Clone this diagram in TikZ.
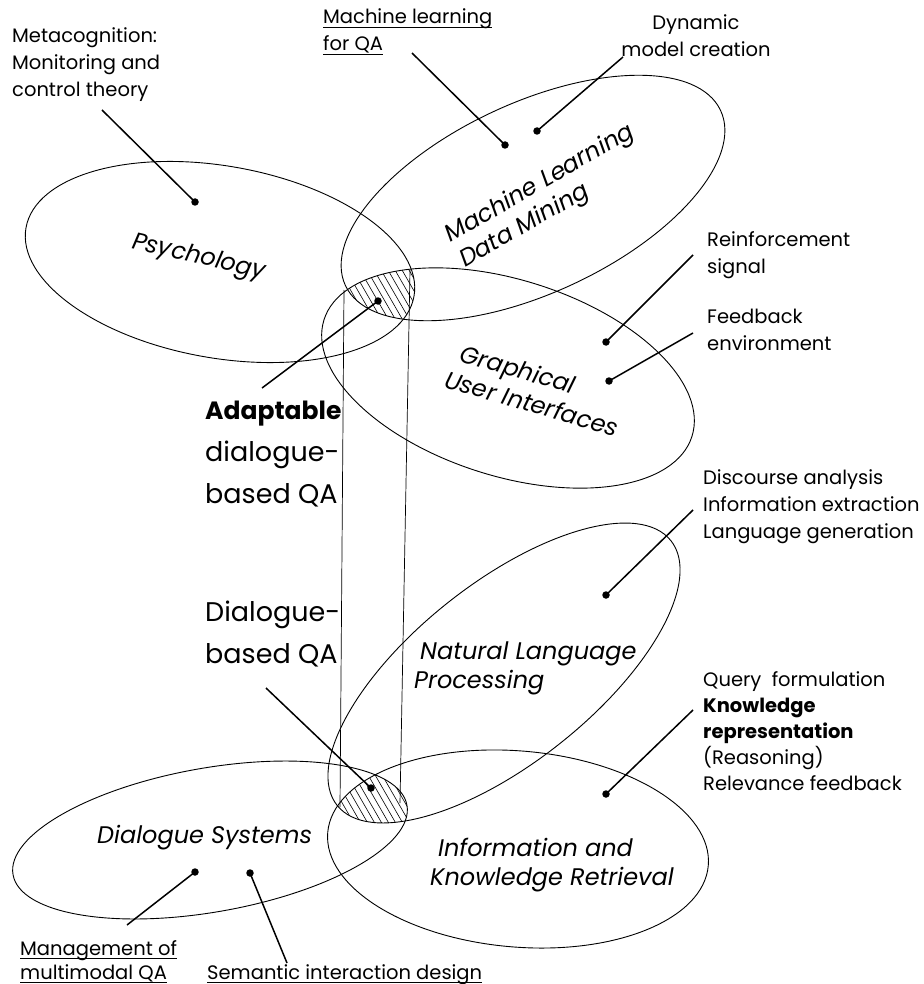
\documentclass[tikz,border=0pt]{standalone}
\usepackage{fontspec}
\setmainfont{Poppins}
\newcommand\fsS{\fontsize{19.5}{27}\selectfont}
\newcommand\fsQ{\fontsize{19.5}{26}\selectfont}
\newcommand\fsB{\fontsize{27}{42}\selectfont}
\newcommand\fsL{\fontsize{24}{29}\selectfont\itshape}
\newcommand\myul[1]{\setbox0\hbox{#1}\rlap{\rule[-3.6pt]{\wd0}{0.9pt}}\box0}
\begin{document}
\begin{tikzpicture}[x=1pt,y=-1pt,
  ell/.style={line width=0.9pt},
  cyl/.style={line width=0.7pt},
  ptr/.style={line width=1.5pt},
  dotn/.style={circle,fill,inner sep=0pt,minimum size=7.5pt},
  hatch/.style={line width=0.6pt},
  lbl/.style={inner sep=0pt,anchor=base west,align=left,font=\fsS},
  lblq/.style={inner sep=0pt,anchor=base west,align=left,font=\fsQ},
  big/.style={inner sep=0pt,anchor=base west,align=left,font=\fsB},
  elab/.style={inner sep=0pt,anchor=base west,align=left,font=\fsL}]
\useasboundingbox (0,0) rectangle (923,984);
% ---------- hatched intersections ----------
\begin{scope}
  \clip[shift={(220,262)},rotate=-10] (0,0) ellipse [x radius=197,y radius=96];
  \clip[shift={(533,198)},rotate=25] (0,0) ellipse [x radius=207,y radius=95];
  \clip[shift={(508,378)},rotate=-17.6] (0,0) ellipse [x radius=193,y radius=98];
  \foreach \k in {-12,...,30} \draw[hatch] (260+\k*7,230) -- ++(69,120);
\end{scope}
\begin{scope}
  \clip[shift={(210,840)},rotate=10] (0,0) ellipse [x radius=200,y radius=72];
  \clip[shift={(504,673)},rotate=38.4] (0,0) ellipse [x radius=213,y radius=90];
  \clip[shift={(518,849)},rotate=-5] (0,0) ellipse [x radius=191,y radius=98];
  \foreach \k in {-12,...,30} \draw[hatch] (250+\k*7,740) -- ++(69,120);
\end{scope}
% ---------- ellipses ----------
\draw[ell,shift={(220,262)},rotate=-10] (0,0) ellipse [x radius=197,y radius=96];
\draw[ell,shift={(533,198)},rotate=25] (0,0) ellipse [x radius=207,y radius=95];
\draw[ell,shift={(508,378)},rotate=-17.6] (0,0) ellipse [x radius=193,y radius=98];
\draw[ell,shift={(504,673)},rotate=38.4] (0,0) ellipse [x radius=213,y radius=90];
\draw[ell,shift={(210,840)},rotate=10] (0,0) ellipse [x radius=200,y radius=72];
\draw[ell,shift={(518,849)},rotate=-5] (0,0) ellipse [x radius=191,y radius=98];
% ---------- cylinder lines ----------
\coordinate (cl1) at (344,290);
\coordinate (cl2) at (340,807);
\coordinate (cr1) at (410,270);
\coordinate (cr2) at (400,803);
\draw[cyl] (cl1) -- (cl2);
\draw[cyl] (cr1) -- (cr2);
% ---------- ellipse labels (anchor = baseline of last line) ----------
\node[elab,rotate=-13] (tPsy) at (131,248) {Psychology};
\node[elab,rotate=30] (tML) at (465,268) {Machine Learning\\Data Mining};
\node[elab,rotate=-16] (tGUI) at (443,387) {\hspace{8pt}Graphical\\User Interfaces};
\node[elab] (tNLP) at (414,688) {\hspace{6pt}Natural Language\\Processing};
\node[elab] (tIR) at (430,885) {\hspace{8pt}Information and\\Knowledge Retrieval};
\node[elab] (tDS) at (97,843) {Dialogue Systems};
% ---------- outer labels ----------
\node[lbl] (tMeta) at (12,97) {Metacognition:\\Monitoring and\\control theory};
\node[lbl] (tMLQA) at (323,51) {\myul{Machine learning}\\\myul{for QA}};
\node[lbl,align=center,anchor=base] (tDyn) at (696,57) {Dynamic\\model creation};
\node[lbl] (tReinf) at (707,273) {Reinforcement\\signal};
\node[lbl] (tFeed) at (707,350) {Feedback\\environment};
\node[lbl] (tDisc) at (703,538) {Discourse analysis\\Information extraction\\Language generation};
\node[lblq] (tQuery) at (703,790) {Query\ \ formulation\\\textbf{Knowledge}\\\textbf{representation}\\(Reasoning)\\Relevance feedback};
\node[lbl,font=\fontsize{19.5}{24}\selectfont] (tMgmt) at (20,979) {\myul{Management of}\\\myul{multimodal QA}};
\node[lbl] (tSem) at (207,979) {\myul{Semantic interaction design}};
\node[big] (tAdapt) at (205,503) {{\fontsize{25}{42}\selectfont\textbf{Adaptable}}\\dialogue-\\based QA};
\node[big] (tDQA) at (205,663) {Dialogue-\\based QA};
% ---------- dots ----------
\node[dotn] (dMeta) at (195,202) {};
\node[dotn] (dMLQA) at (505,145) {};
\node[dotn] (dDyn) at (537,131) {};
\node[dotn] (dAdapt) at (378,301) {};
\node[dotn] (dReinf) at (606,342) {};
\node[dotn] (dFeed) at (609,381) {};
\node[dotn] (dDisc) at (606,595) {};
\node[dotn] (dKnow) at (606,794) {};
\node[dotn] (dDQA) at (371,788) {};
\node[dotn] (dMgmt) at (195,872) {};
\node[dotn] (dSem) at (250,873) {};
% ---------- pointer ends ----------
\coordinate (sMeta) at (102,110);
\coordinate (sMLQA) at (412,53);
\coordinate (sDyn) at (623,57);
\coordinate (sAdapt) at (262,388);
\coordinate (sReinf) at (693,255);
\coordinate (sFeed) at (693,333);
\coordinate (sDisc) at (693,510);
\coordinate (sKnow) at (693,710);
\coordinate (sDQA) at (266,688);
\coordinate (sMgmt) at (127,925);
\coordinate (sSem) at (287,963);
\foreach \s/\d in {sMeta/dMeta,sMLQA/dMLQA,sDyn/dDyn,sAdapt/dAdapt,sReinf/dReinf,sFeed/dFeed,sDisc/dDisc,sKnow/dKnow,sDQA/dDQA,sMgmt/dMgmt,sSem/dSem}
  \draw[ptr] (\s) -- (\d.center);
\end{tikzpicture}
\end{document}
